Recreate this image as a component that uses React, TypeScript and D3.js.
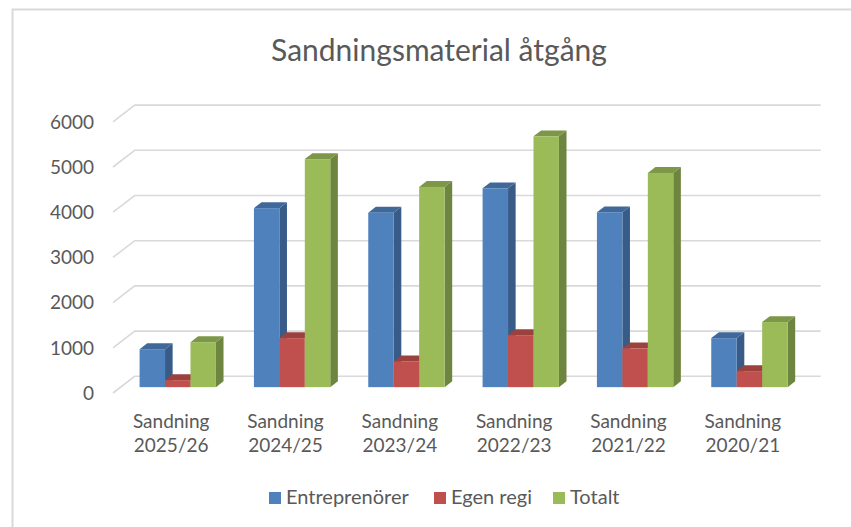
import React, { useEffect, useRef } from "react";
import * as d3 from "d3";

const categories = [
  "Sandning 2025/26",
  "Sandning 2024/25",
  "Sandning 2023/24",
  "Sandning 2022/23",
  "Sandning 2021/22",
  "Sandning 2020/21",
];
const seriesNames = ["Entreprenörer", "Egen regi", "Totalt"];
const entreprenorer = [840, 3960, 3860, 4400, 3870, 1085];
const egenRegi = [155, 1085, 570, 1150, 860, 355];
const totalt = [995, 5045, 4430, 5550, 4740, 1440];
const yTicks = [0, 1000, 2000, 3000, 4000, 5000, 6000];
const colors = ["#4f81bd", "#c0504d", "#9bbb59"];
const title = "Sandningsmaterial åtgång";

export default function App() {
  const ref = useRef<SVGSVGElement>(null);

  useEffect(() => {
    const svg = d3.select(ref.current);
    svg.selectAll("*").remove();
    const W = 851, H = 527;
    const font = "Lato, 'Open Sans', sans-serif";
    const textColor = "#595959";

    // frame
    svg.append("rect").attr("width", W).attr("height", H).attr("fill", "#ffffff");
    svg.append("path")
      .attr("d", `M12.5,${H} L12.5,9.5 L${W},9.5`)
      .attr("fill", "none").attr("stroke", "#d9d9d9").attr("stroke-width", 2);

    // 3D geometry
    const x0 = 113, x1 = 799;
    const depth = { dx: 21.7, dy: -16.7 };
    const y = d3.scaleLinear().domain([0, 6000]).range([393, 393 - 6 * 45.2]);
    const xBand = d3.scaleBand<string>().domain(categories).range([x0, x1])
      .paddingInner(38 / 114.33).paddingOuter(19 / 114.33);
    const xSeries = d3.scaleBand<string>().domain(seriesNames).range([0, xBand.bandwidth()]);
    const cat = d3.scaleBand<string>().domain(categories).range([x0, x1]);

    // gridlines (back wall + left wall diagonals)
    const grid = svg.append("g");
    yTicks.forEach((t) => {
      const yf = y(t);
      grid.append("path")
        .attr("d", `M${x0},${yf} L${x0 + depth.dx},${yf + depth.dy} L${x1 + depth.dx},${yf + depth.dy}`)
        .attr("fill", "none").attr("stroke", "#d9d9d9").attr("stroke-width", 1.6);
    });

    // y labels
    svg.append("g").selectAll("text").data(yTicks).join("text")
      .attr("x", 94).attr("y", (d) => y(d)).attr("dy", "0.36em")
      .attr("text-anchor", "end").attr("font-family", font).attr("font-size", 19)
      .attr("fill", textColor).text((d) => String(d));

    // bars
    const data = [entreprenorer, egenRegi, totalt];
    const dFront = 0.35, dBack = 0.7;
    const bw = xSeries.bandwidth();
    const bars = svg.append("g");
    categories.forEach((c, i) => {
      seriesNames.forEach((s, si) => {
        const v = data[si][i];
        const xl = (xBand(c) as number) + (xSeries(s) as number) + dFront * depth.dx;
        const xr = xl + bw;
        const yb = y(0) + dFront * depth.dy;
        const yt = y(v) + dFront * depth.dy;
        const ox = (dBack - dFront) * depth.dx;
        const oy = (dBack - dFront) * depth.dy;
        const base = d3.color(colors[si]) as d3.RGBColor;
        // side
        bars.append("path")
          .attr("d", `M${xr},${yb} L${xr + ox},${yb + oy} L${xr + ox},${yt + oy} L${xr},${yt} Z`)
          .attr("fill", base.darker(0.95).toString());
        // top
        bars.append("path")
          .attr("d", `M${xl},${yt} L${xl + ox},${yt + oy} L${xr + ox},${yt + oy} L${xr},${yt} Z`)
          .attr("fill", base.darker(0.6).toString());
        // front
        bars.append("rect")
          .attr("x", xl).attr("y", yt).attr("width", bw).attr("height", yb - yt)
          .attr("fill", colors[si]);
      });
    });

    // x labels
    const xl = svg.append("g");
    categories.forEach((c) => {
      const cx = (cat(c) as number) + cat.bandwidth() / 2 + 1;
      const parts = c.split(" ");
      parts.forEach((p, pi) => {
        xl.append("text").attr("x", cx).attr("y", 428 + pi * 24)
          .attr("text-anchor", "middle").attr("font-family", font).attr("font-size", 19)
          .attr("fill", textColor).text(p);
      });
    });

    // title
    svg.append("text").attr("x", 439).attr("y", 61).attr("text-anchor", "middle")
      .attr("font-family", font).attr("font-size", 30).attr("fill", textColor).text(title);

    // legend
    const legendX = [269, 434, 553];
    const lg = svg.append("g");
    seriesNames.forEach((s, si) => {
      lg.append("rect").attr("x", legendX[si]).attr("y", 492).attr("width", 12).attr("height", 12)
        .attr("fill", colors[si]);
      lg.append("text").attr("x", legendX[si] + 17).attr("y", 504)
        .attr("font-family", font).attr("font-size", 20).attr("fill", textColor).text(s);
    });
  }, []);

  return (
    <svg ref={ref} width={851} height={527}
      style={{ position: "absolute", left: 0, top: 0, display: "block" }} />
  );
}
